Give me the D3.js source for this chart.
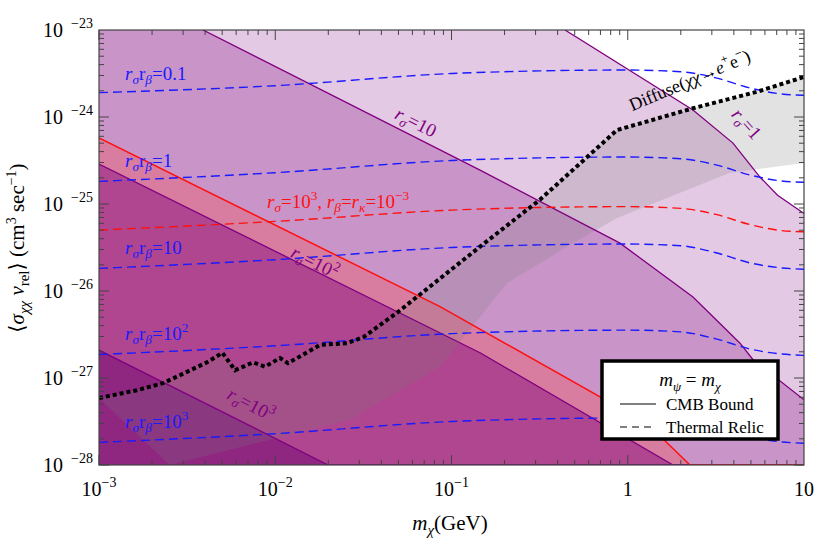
<!DOCTYPE html>
<html lang="en">
<head>
<meta charset="UTF-8">
<title>CMB bounds</title>
<script src="https://cdn.jsdelivr.net/npm/d3@7"></script>
<style>
  body { margin: 0; background: #fff; }
  text { font-family: 'Liberation Serif', 'DejaVu Serif', serif; }
</style>
</head>
<body>
<script>
    // curves stored as [log10 m, log10 sigma v]
    const cmbR1    = [[-3,-23],[-0.356,-23],[0.37,-23.92],[0.597,-24.3],[0.75,-24.69],[0.85,-24.9],[1,-25.11]];
    const cmbR10   = [[-3,-23],[-2.41,-23],[-0.838,-24.61],[-0.044,-25.45],[0.37,-26.07],[0.637,-26.6],[0.711,-26.79],[1,-27.25]];
    const cmbRed   = [[-3,-24.24],[-1.065,-26.18],[0.109,-27.52],[0.353,-28],[1,-28]];
    const cmbR100  = [[-3,-24.54],[-0.838,-26.71],[0.257,-28],[1,-28]];
    const cmbR1000 = [[-3,-26.68],[-1.7,-28],[1,-28]];

    const diffuse = [[-3,-27.23],[-2.785,-27.14],[-2.637,-27.06],[-2.387,-26.82],[-2.3,-26.71],[-2.228,-26.91],
        [-2.126,-26.82],[-2.058,-26.87],[-1.973,-26.77],[-1.928,-26.83],[-1.746,-26.62],[-1.593,-26.6],
        [-1.5,-26.53],[-1.309,-26.25],[-0.838,-25.49],[-0.498,-24.95],[-0.061,-24.15],[0.37,-23.9],
        [0.733,-23.71],[1,-23.54]];
    const diffuseLow = [[1,-24.53],[0.58,-24.64],[-0.061,-25.16],[-0.311,-25.45],[-0.685,-25.91],
        [-1.065,-26.87],[-1.576,-27.48],[-2.6,-28]];

    const relic01   = [[-3,-23.72],[-2,-23.64],[-1,-23.5],[-0.5,-23.47],[0,-23.46],[0.3,-23.48],[0.5,-23.55],[0.7,-23.67],[0.85,-23.73],[1,-23.75]];
    const relic1    = [[-3,-24.74],[-2,-24.64],[-1,-24.5],[-0.5,-24.47],[0,-24.46],[0.3,-24.48],[0.5,-24.55],[0.7,-24.67],[0.85,-24.73],[1,-24.75]];
    const relic10   = [[-3,-25.74],[-2,-25.64],[-1,-25.5],[-0.5,-25.47],[0,-25.46],[0.3,-25.48],[0.5,-25.56],[0.7,-25.68],[0.85,-25.73],[1,-25.75]];
    const relic100  = [[-3,-26.73],[-2,-26.63],[-1,-26.49],[-0.5,-26.46],[0,-26.45],[0.3,-26.47],[0.5,-26.55],[0.7,-26.67],[0.85,-26.72],[1,-26.74]];
    const relic1000 = [[-3,-27.74],[-2,-27.64],[-1,-27.5],[-0.5,-27.47],[0,-27.46],[0.3,-27.48],[0.5,-27.56],[0.7,-27.68],[0.85,-27.73],[1,-27.75]];
    const relicRed  = [[-3,-25.3],[-2,-25.2],[-1,-25.07],[-0.5,-25.04],[0,-25.03],[0.3,-25.05],[0.5,-25.12],[0.7,-25.24],[0.85,-25.3],[1,-25.32]];

    const xTicks = [-3,-2,-1,0,1];
    const xTickLabels = [["10","−3"],["10","−2"],["10","−1"],["1",""],["10",""]];
    const yTicks = [-28,-27,-26,-25,-24,-23];

    const width = 822, height = 541;
    const pLeft = 99, pRight = 804, pTop = 30, pBottom = 465;

    const x = d3.scaleLog().domain([1e-3, 10]).range([pLeft, pRight]);
    const y = d3.scaleLog().domain([1e-28, 1e-23]).range([pBottom, pTop]);
    const px = d => x(Math.pow(10, d[0]));
    const py = d => y(Math.pow(10, d[1]));

    const svg = d3.select("body").append("svg")
        .attr("width", width).attr("height", height);

    svg.append("clipPath").attr("id", "plot")
        .append("rect").attr("x", pLeft).attr("y", pTop)
        .attr("width", pRight - pLeft).attr("height", pBottom - pTop);

    const g = svg.append("g").attr("clip-path", "url(#plot)");

    const area = d3.area().x(px).y0(pBottom).y1(py);
    const line = d3.line().x(px).y(py);

    g.append("path").attr("d", area(cmbR1)).attr("fill", "#e4c9e4");
    g.append("path").attr("d", area(cmbR10)).attr("fill", "#c995c8");
    g.append("path").attr("d", area(cmbRed)).attr("fill", "#d87ca0");
    g.append("path").attr("d", area(cmbR100)).attr("fill", "#b0468f");
    g.append("path").attr("d", area(cmbR1000)).attr("fill", "#8f2680");

    // gray diffuse region
    g.append("path")
        .attr("d", line(diffuse.concat(diffuseLow)) + "Z")
        .attr("fill", "#7a7a7a").attr("opacity", 0.22);

    [cmbR1, cmbR10, cmbR100, cmbR1000].forEach(c => {
        g.append("path").attr("d", line(c.slice(c[0][1] === -23 ? 1 : 0)))
            .attr("fill", "none").attr("stroke", "#800080").attr("stroke-width", 1.3);
    });
    g.append("path").attr("d", line(cmbRed))
        .attr("fill", "none").attr("stroke", "#ff1010").attr("stroke-width", 1.5);

    const curve = d3.line().x(px).y(py).curve(d3.curveMonotoneX);
    [relic01, relic1, relic10, relic100, relic1000].forEach(c => {
        g.append("path").attr("d", curve(c))
            .attr("fill", "none").attr("stroke", "#1a1aff").attr("stroke-width", 1.4)
            .attr("stroke-dasharray", "9,5");
    });
    g.append("path").attr("d", curve(relicRed))
        .attr("fill", "none").attr("stroke", "#ff1010").attr("stroke-width", 1.4)
        .attr("stroke-dasharray", "9,5");

    g.append("path").attr("d", line(diffuse))
        .attr("fill", "none").attr("stroke", "#000").attr("stroke-width", 4)
        .attr("stroke-dasharray", "4,3");

    // labels
    function rlabel(xp, yp, parts, color, rot, size) {
        const t = svg.append("text").attr("fill", color).attr("font-size", size || 19)
            .attr("transform", "translate(" + [xp, yp] + ") rotate(" + (rot || 0) + ")")
            .attr("text-anchor", rot ? "middle" : "start");
        parts.forEach(p => {
            const s = t.append("tspan").text(p[0]);
            if (p[1] === "i") s.attr("font-style", "italic");
            if (p[1] === "sub") s.attr("font-size", "0.7em").attr("font-style", "italic").attr("dy", 4);
            if (p[1] === "subr") s.attr("dy", -4);
            if (p[1] === "sup") s.attr("font-size", "0.7em").attr("dy", -8);
            if (p[1] === "supr") s.attr("dy", 8);
        });
        return t;
    }
    const rr = v => [["r","i"],["σ","sub"],["r","subr"],["β","sub"],["=","subr"]].concat(v);
    rlabel(125, 80, rr([["0.1"]]), "#1a1aff");
    rlabel(125, 167, rr([["1"]]), "#1a1aff");
    rlabel(125, 254, rr([["10"]]), "#1a1aff");
    rlabel(125, 340, rr([["10"],["2","sup"]]), "#1a1aff");
    rlabel(125, 428, rr([["10"],["3","sup"]]), "#1a1aff");
    rlabel(267, 208, [["r","i"],["σ","sub"],["=10","subr"],["3","sup"],[", ","supr"],["r","i"],["β","sub"],["=","subr"],
        ["r","i"],["κ","sub"],["=10","subr"],["−3","sup"]], "#ff1010");

    rlabel(413, 128, [["r","i"],["σ","sub"],["=10","subr"]], "#800080", 27);
    rlabel(312, 268, [["r","i"],["σ","sub"],["=10","subr"],["2","sup"]], "#800080", 27);
    rlabel(248, 410, [["r","i"],["σ","sub"],["=10","subr"],["3","sup"]], "#800080", 28);
    rlabel(742, 128, [["r","i"],["σ","sub"],["=1","subr"]], "#800080", 48);
    rlabel(692, 86, [["Diffuse("],["χχ","i"],["→"],["e","i"],["+","sup"],["e","supr"],["−","sup"],[")","supr"]], "#000", -23, 18);

    // frame and ticks
    svg.append("rect").attr("x", pLeft).attr("y", pTop).attr("width", pRight - pLeft).attr("height", pBottom - pTop)
        .attr("fill", "none").attr("stroke", "#444").attr("stroke-width", 1.2);

    const tk = svg.append("g").attr("stroke", "#444").attr("stroke-width", 1);
    for (let e = -3; e <= 0; e++) {
        for (let m = 1; m <= 9; m++) {
            const xv = x(m * Math.pow(10, e));
            const len = m === 1 ? 10 : 5;
            tk.append("line").attr("x1", xv).attr("x2", xv).attr("y1", pBottom).attr("y2", pBottom - len);
            tk.append("line").attr("x1", xv).attr("x2", xv).attr("y1", pTop).attr("y2", pTop + len);
        }
    }
    for (let e = -28; e <= -24; e++) {
        for (let m = 1; m <= 9; m++) {
            const yv = y(m * Math.pow(10, e));
            const len = m === 1 ? 10 : 5;
            tk.append("line").attr("y1", yv).attr("y2", yv).attr("x1", pLeft).attr("x2", pLeft + len);
            tk.append("line").attr("y1", yv).attr("y2", yv).attr("x1", pRight).attr("x2", pRight - len);
        }
    }

    xTicks.forEach((e, i) => {
        const t = svg.append("text").attr("x", x(Math.pow(10, e))).attr("y", pBottom + 31)
            .attr("text-anchor", "middle").attr("font-size", 20);
        t.append("tspan").text(xTickLabels[i][0]);
        if (xTickLabels[i][1]) t.append("tspan").text(xTickLabels[i][1]).attr("font-size", 14).attr("dy", -9);
    });
    yTicks.forEach(e => {
        const t = svg.append("text").attr("x", pLeft - 36).attr("y", y(Math.pow(10, e)) + 7)
            .attr("text-anchor", "end").attr("font-size", 20);
        t.append("tspan").text("10");
        t.append("tspan").text("−" + (-e)).attr("font-size", 14).attr("dy", -9).attr("x", pLeft - 6).attr("text-anchor", "end");
    });

    // axis titles
    const xt = svg.append("text").attr("x", 450).attr("y", 530).attr("text-anchor", "middle").attr("font-size", 21);
    xt.append("tspan").text("m").attr("font-style", "italic");
    xt.append("tspan").text("χ").attr("font-style", "italic").attr("font-size", 15).attr("dy", 5);
    xt.append("tspan").text("(GeV)").attr("dy", -5);

    const yt = svg.append("text").attr("transform", "translate(24,248) rotate(-90)")
        .attr("text-anchor", "middle").attr("font-size", 21);
    yt.append("tspan").text("⟨");
    yt.append("tspan").text("σ").attr("font-style", "italic");
    yt.append("tspan").text("χχ").attr("font-style", "italic").attr("font-size", 15).attr("dy", 5);
    yt.append("tspan").text(" v").attr("font-style", "italic").attr("dy", -5);
    yt.append("tspan").text("rel").attr("font-size", 15).attr("dy", 5);
    yt.append("tspan").text("⟩ (cm").attr("dy", -5);
    yt.append("tspan").text("3").attr("font-size", 14).attr("dy", -8);
    yt.append("tspan").text(" sec").attr("dy", 8);
    yt.append("tspan").text("−1").attr("font-size", 14).attr("dy", -8);
    yt.append("tspan").text(")").attr("dy", 8);

    // legend
    const lg = svg.append("g").attr("transform", "translate(602,361)");
    lg.append("rect").attr("width", 176).attr("height", 78).attr("fill", "#fff")
        .attr("stroke", "#000").attr("stroke-width", 3.5);
    const lt = lg.append("text").attr("x", 88).attr("y", 25).attr("text-anchor", "middle").attr("font-size", 19);
    lt.append("tspan").text("m").attr("font-style", "italic");
    lt.append("tspan").text("ψ").attr("font-style", "italic").attr("font-size", 13).attr("dy", 5);
    lt.append("tspan").text(" = ").attr("dy", -5);
    lt.append("tspan").text("m").attr("font-style", "italic");
    lt.append("tspan").text("χ").attr("font-style", "italic").attr("font-size", 13).attr("dy", 5);
    lg.append("line").attr("x1", 18).attr("x2", 54).attr("y1", 43).attr("y2", 43).attr("stroke", "#000");
    lg.append("line").attr("x1", 18).attr("x2", 54).attr("y1", 66).attr("y2", 66).attr("stroke", "#000")
        .attr("stroke-dasharray", "7,5");
    lg.append("text").attr("x", 64).attr("y", 49).attr("font-size", 17).text("CMB Bound");
    lg.append("text").attr("x", 64).attr("y", 72).attr("font-size", 17).text("Thermal Relic");
</script>
</body>
</html>
